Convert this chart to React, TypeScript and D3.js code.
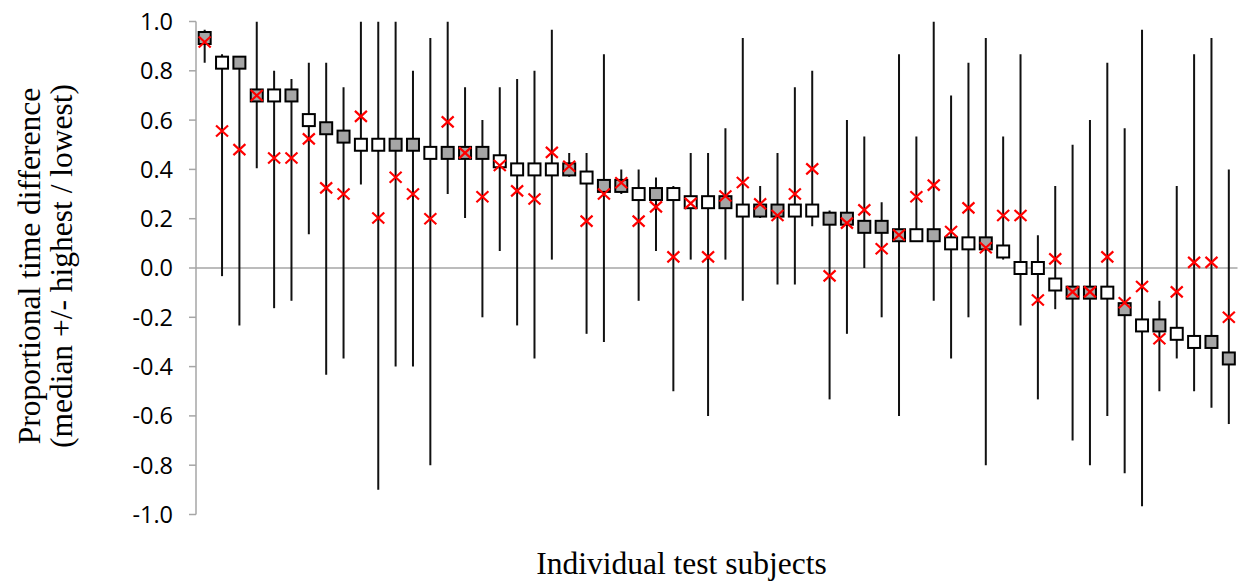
import React from "react";
import * as d3 from "d3";

// ---- data ----
const subjects: number[] = d3.range(1, 61);

const medians: number[] = [
  0.933, 0.833, 0.833, 0.7, 0.7, 0.7, 0.6, 0.567, 0.533, 0.5,
  0.5, 0.5, 0.5, 0.467, 0.467, 0.467, 0.467, 0.433, 0.4, 0.4,
  0.4, 0.4, 0.367, 0.333, 0.333, 0.3, 0.3, 0.3, 0.267, 0.267,
  0.267, 0.233, 0.233, 0.233, 0.233, 0.233, 0.2, 0.2, 0.167, 0.167,
  0.133, 0.133, 0.133, 0.1, 0.1, 0.1, 0.067, 0.0, 0.0, -0.067,
  -0.1, -0.1, -0.1, -0.167, -0.233, -0.233, -0.267, -0.3, -0.3, -0.367,
];

const highs: number[] = [
  0.967, 0.867, 0.833, 1.0, 0.8, 0.767, 0.833, 0.833, 0.733, 1.0,
  1.0, 1.0, 0.8, 0.933, 1.0, 0.733, 0.6, 0.733, 0.767, 0.8,
  0.967, 0.467, 0.467, 0.867, 0.4, 0.4, 0.367, 0.333, 0.467, 0.467,
  0.567, 0.933, 0.333, 0.467, 0.733, 0.8, 0.233, 0.6, 0.533, 0.267,
  0.867, 0.533, 1.0, 0.7, 0.833, 0.933, 0.533, 0.867, 0.133, 0.333,
  0.5, 0.6, 0.833, 0.567, 0.967, -0.133, 0.333, 0.867, 0.933, 0.4,
];

const lows: number[] = [
  0.833, -0.033, -0.233, 0.405, -0.163, -0.133, 0.137, -0.433, -0.367, 0.339,
  -0.9, -0.4, -0.4, -0.8, 0.3, 0.203, -0.2, 0.069, -0.233, -0.367,
  0.034, 0.37, -0.267, -0.3, 0.3, -0.133, 0.069, -0.5, 0.034, -0.6,
  0.034, -0.133, 0.203, -0.067, -0.067, 0.169, -0.533, -0.267, 0.0, -0.2,
  -0.6, 0.12, -0.133, -0.367, -0.2, -0.8, 0.034, -0.233, -0.533, -0.167,
  -0.7, -0.8, -0.6, -0.833, -0.967, -0.5, -0.367, -0.5, -0.567, -0.633,
];

const crosses: number[] = [
  0.917, 0.556, 0.48, 0.7, 0.446, 0.446, 0.524, 0.325, 0.3, 0.615,
  0.203, 0.368, 0.3, 0.2, 0.593, 0.467, 0.289, 0.416, 0.313, 0.28,
  0.469, 0.413, 0.19, 0.3, 0.346, 0.19, 0.248, 0.045, 0.262, 0.045,
  0.292, 0.347, 0.26, 0.213, 0.3, 0.402, -0.032, 0.182, 0.236, 0.078,
  0.134, 0.289, 0.336, 0.148, 0.244, 0.082, 0.213, 0.213, -0.13, 0.037,
  -0.097, -0.097, 0.045, -0.141, -0.075, -0.287, -0.097, 0.023, 0.023, -0.2,
];

// g = grey filled square, w = white square
const groups: string[] = [
  "g", "w", "g", "g", "w", "g", "w", "g", "g", "w",
  "w", "g", "g", "w", "g", "g", "g", "w", "w", "w",
  "w", "g", "w", "g", "g", "w", "g", "w", "w", "w",
  "g", "w", "g", "g", "w", "w", "g", "g", "g", "g",
  "g", "w", "g", "w", "w", "g", "w", "w", "w", "w",
  "g", "g", "w", "g", "w", "g", "w", "w", "g", "g",
];

const yTicks: number[] = [1.0, 0.8, 0.6, 0.4, 0.2, 0.0, -0.2, -0.4, -0.6, -0.8, -1.0];

const yTitleLines: string[] = [
  "Proportional time difference",
  "(median +/- highest / lowest)",
];
const xTitle = "Individual test subjects";

// ---- layout ----
const W = 1241;
const H = 586;
const plotLeft = 196;
const plotRight = 1237.5;
const plotTop = 21.5;
const plotBottom = 514.5;

export default function App() {
  const x = d3
    .scaleBand<number>()
    .domain(subjects)
    .range([plotLeft, plotRight])
    .padding(0);
  const y = d3.scaleLinear().domain([-1, 1]).range([plotBottom, plotTop]);
  const cx = (s: number) => (x(s) as number) + x.bandwidth() / 2;

  const sq = 12;
  const xs = 6;
  const ys = 5.5;

  return (
    <svg
      width={W}
      height={H}
      style={{ position: "absolute", left: 0, top: 0, background: "#fff" }}
    >
      <defs>
        <clipPath id="plotClip">
          <rect x={plotLeft} y={plotTop} width={plotRight - plotLeft + 5} height={plotBottom - plotTop} />
        </clipPath>
      </defs>

      {/* y axis */}
      <line
        x1={plotLeft}
        x2={plotLeft}
        y1={y(1)}
        y2={y(-1)}
        stroke="#a6a6a6"
        strokeWidth={1.5}
      />
      {yTicks.map((t) => (
        <g key={t}>
          <line
            x1={plotLeft - 7}
            x2={plotLeft}
            y1={y(t)}
            y2={y(t)}
            stroke="#a6a6a6"
            strokeWidth={1.5}
          />
          <text
            x={plotLeft - 23}
            y={y(t)}
            dy="0.36em"
            textAnchor="end"
            fontFamily="'Open Sans', sans-serif"
            fontSize={23.5}
            fill="#000"
          >
            {t.toFixed(1)}
          </text>
        </g>
      ))}

      {/* zero line */}
      <line
        x1={plotLeft}
        x2={plotRight}
        y1={y(0)}
        y2={y(0)}
        stroke="#a6a6a6"
        strokeWidth={1.5}
      />

      <g clipPath="url(#plotClip)">
        {/* high-low lines */}
        {subjects.map((s, i) => (
          <line
            key={"l" + s}
            x1={cx(s)}
            x2={cx(s)}
            y1={y(highs[i])}
            y2={y(lows[i])}
            stroke="#111"
            strokeWidth={2}
          />
        ))}
        {/* median squares */}
        {subjects.map((s, i) => (
          <rect
            key={"s" + s}
            x={cx(s) - sq / 2}
            y={y(medians[i]) - sq / 2}
            width={sq}
            height={sq}
            fill={groups[i] === "g" ? "#a5a5a5" : "#ffffff"}
            stroke="#000"
            strokeWidth={2}
          />
        ))}
        {/* red crosses */}
        {subjects.map((s, i) => {
          const px = cx(s);
          const py = y(crosses[i]);
          return (
            <path
              key={"x" + s}
              d={`M${px - xs},${py - ys}L${px + xs},${py + ys}M${px - xs},${py + ys}L${px + xs},${py - ys}`}
              stroke="#ff0000"
              strokeWidth={2.2}
              fill="none"
            />
          );
        })}
      </g>

      {/* y title */}
      {yTitleLines.map((line, k) => {
        const bx = 40 + k * 31.5;
        const by = 266;
        return (
          <text
            key={line}
            x={bx}
            y={by}
            transform={`rotate(-90, ${bx}, ${by})`}
            textAnchor="middle"
            fontFamily="'Liberation Serif', 'Times New Roman', serif"
            fontSize={31.5}
            fill="#000"
          >
            {line}
          </text>
        );
      })}

      {/* x title */}
      <text
        x={681.5}
        y={574}
        textAnchor="middle"
        fontFamily="'Liberation Serif', 'Times New Roman', serif"
        fontSize={31.5}
        fill="#000"
      >
        {xTitle}
      </text>
    </svg>
  );
}
